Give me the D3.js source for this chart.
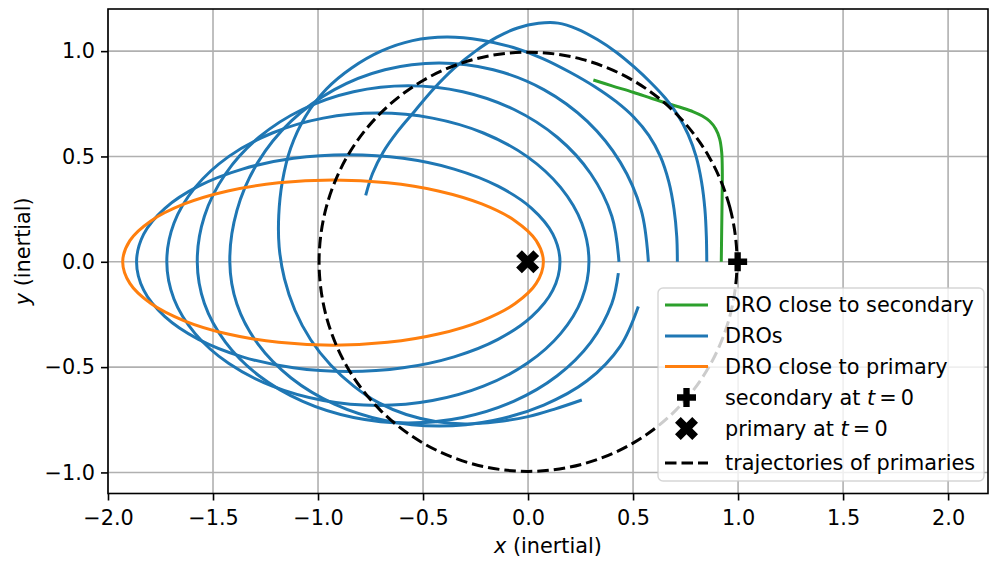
<!DOCTYPE html>
<html><head><meta charset="utf-8">
<script src="https://cdn.jsdelivr.net/npm/d3@7"></script>
<style>body{margin:0;background:#fff}svg{display:block}</style>
</head><body>
<svg id="chart" width="990" height="561"></svg>
<script>
// ---------- data ----------
const xTicks = [-2.0, -1.5, -1.0, -0.5, 0.0, 0.5, 1.0, 1.5, 2.0];
const yTicks = [-1.0, -0.5, 0.0, 0.5, 1.0];

const droSecondary = [[0.92,0],[0.922,0.15],[0.924,0.3],[0.925,0.42],[0.922,0.52],[0.912,0.585],[0.893,0.632],[0.865,0.667],[0.83,0.692],[0.787,0.712],[0.735,0.73],[0.668,0.75],[0.59,0.775],[0.5,0.805],[0.4,0.835],[0.311,0.863]];

const droPrimary = [[0.073,0],[0.0389,0.1004],[-0.0612,0.194],[-0.2203,0.2744],[-0.4277,0.336],[-0.6693,0.3748],[-0.9285,0.388],[-1.1877,0.3748],[-1.4293,0.336],[-1.6367,0.2744],[-1.7958,0.194],[-1.8959,0.1004],[-1.93,0],[-1.8959,-0.1025],[-1.7958,-0.198],[-1.6367,-0.28],[-1.4293,-0.343],[-1.1877,-0.3825],[-0.9285,-0.396],[-0.6693,-0.3825],[-0.4277,-0.343],[-0.2203,-0.28],[-0.0612,-0.198],[0.0389,-0.1025]];

const dro015 = [[0.152,0],[0.118,0.1315],[0.017,0.254],[-0.143,0.359],[-0.352,0.44],[-0.595,0.491],[-0.856,0.508],[-1.117,0.491],[-1.36,0.44],[-1.569,0.359],[-1.729,0.254],[-1.83,0.1315],[-1.864,0],[-1.83,-0.1348],[-1.729,-0.2605],[-1.569,-0.3684],[-1.36,-0.4512],[-1.117,-0.5032],[-0.856,-0.521],[-0.595,-0.5032],[-0.352,-0.4512],[-0.143,-0.3684],[0.017,-0.2605],[0.118,-0.1348]];
const dro029 = [[0.29,0],[0.256,0.1827],[0.155,0.353],[-0.004,0.4992],[-0.2125,0.6114],[-0.455,0.6819],[-0.715,0.706],[-0.975,0.6819],[-1.2175,0.6114],[-1.426,0.4992],[-1.585,0.353],[-1.686,0.1827],[-1.72,0],[-1.686,-0.1765],[-1.585,-0.341],[-1.426,-0.4822],[-1.2175,-0.5906],[-0.975,-0.6588],[-0.715,-0.682],[-0.455,-0.6588],[-0.2125,-0.5906],[-0.004,-0.4822],[0.155,-0.341],[0.256,-0.1765]];
const dro043 = [[0.433,0],[0.399,0.2164],[0.2985,0.418],[0.139,0.5911],[-0.069,0.724],[-0.311,0.8075],[-0.571,0.836],[-0.831,0.8075],[-1.073,0.724],[-1.281,0.5911],[-1.44,0.418],[-1.541,0.2164],[-1.575,0],[-1.541,-0.198],[-1.44,-0.3825],[-1.281,-0.541],[-1.073,-0.6625],[-0.831,-0.739],[-0.571,-0.765],[-0.311,-0.739],[-0.069,-0.6625],[0.139,-0.541],[0.2985,-0.3825],[0.399,-0.198],[0.43,-0.054]];
const dro057 = [[0.573,0],[0.539,0.2443],[0.4395,0.472],[0.281,0.6675],[0.0748,0.8175],[-0.1656,0.9118],[-0.4235,0.944],[-0.6815,0.9118],[-0.922,0.8175],[-1.128,0.6675],[-1.2865,0.472],[-1.386,0.2443],[-1.42,0],[-1.386,-0.202],[-1.2865,-0.39],[-1.128,-0.5515],[-0.922,-0.6755],[-0.6815,-0.7534],[-0.4235,-0.78],[-0.1656,-0.7534],[0.0748,-0.68],[0.281,-0.565],[0.4395,-0.40],[0.525,-0.212]];
const dro071 = [[0.711,0],[0.708,0.12],[0.695,0.25],[0.67,0.38],[0.63,0.5],[0.575,0.6],[0.505,0.685],[0.42,0.76],[0.32,0.83],[0.2,0.9],[0.07,0.965],[-0.07,1.017],[-0.22,1.052],[-0.387,1.067],[-0.55,1.05],[-0.7,1.0],[-0.84,0.92],[-0.96,0.82],[-1.06,0.69],[-1.13,0.54],[-1.17,0.38],[-1.187,0.22],[-1.185,0.07],[-1.16,-0.08],[-1.11,-0.23],[-1.035,-0.37],[-0.94,-0.49],[-0.83,-0.59],[-0.71,-0.67],[-0.58,-0.725],[-0.44,-0.758],[-0.3,-0.77],[-0.15,-0.76],[0.0,-0.735],[0.13,-0.698],[0.256,-0.656]];
const dro085 = [[0.851,0],[0.849,0.12],[0.842,0.25],[0.826,0.38],[0.8,0.5],[0.762,0.605],[0.714,0.695],[0.655,0.775],[0.585,0.85],[0.505,0.925],[0.42,0.995],[0.33,1.055],[0.235,1.105],[0.143,1.133],[0.05,1.132],[-0.05,1.11],[-0.15,1.065],[-0.25,1.0],[-0.35,0.92],[-0.45,0.82],[-0.54,0.715],[-0.62,0.62],[-0.69,0.52],[-0.74,0.42],[-0.773,0.315]];
const blueDROs = [dro015, dro029, dro043, dro057, dro071, dro085];
const blueClosed = [true, true, false, false, false, false];

const primariesPath = [[0.995,0],[0.961,0.258],[0.862,0.498],[0.704,0.704],[0.498,0.862],[0.258,0.961],[0,0.995],[-0.258,0.961],[-0.498,0.862],[-0.704,0.704],[-0.862,0.498],[-0.961,0.258],[-0.995,0],[-0.961,-0.258],[-0.862,-0.498],[-0.704,-0.704],[-0.498,-0.862],[-0.258,-0.961],[0,-0.995],[0.258,-0.961],[0.498,-0.862],[0.704,-0.704],[0.862,-0.498],[0.961,-0.258]];
const secondaryAt0 = [0.998, 0];
const primaryAt0 = [-0.002, 0];

const legendLabels = ["DRO close to secondary", "DROs", "DRO close to primary", "secondary at ", "primary at ", "trajectories of primaries"];

// ---------- styles ----------
const C = {green:"#2ca02c", blue:"#1f77b4", orange:"#ff7f0e", grid:"#b0b0b0"};
const LW = 3.0;
const DASH = "11.5,5";
const FONT = "DejaVu Sans, sans-serif";
const FS = 20.8;

const svg = d3.select("#chart");
const M = {left:108, right:988, top:9, bottom:493.5};
const x = d3.scaleLinear().domain([-2.0, 2.19]).range([M.left, M.right]);
const y = d3.scaleLinear().domain([-1.10, 1.20]).range([M.bottom, M.top]);

svg.append("defs").append("clipPath").attr("id","clip")
  .append("rect").attr("x",M.left).attr("y",M.top).attr("width",M.right-M.left).attr("height",M.bottom-M.top);

// grid
const grid = svg.append("g");
grid.selectAll(".gx").data(xTicks).join("line")
  .attr("x1",d=>x(d)).attr("x2",d=>x(d)).attr("y1",M.top).attr("y2",M.bottom)
  .attr("stroke",C.grid).attr("stroke-width",1.6);
grid.selectAll(".gy").data(yTicks).join("line")
  .attr("y1",d=>y(d)).attr("y2",d=>y(d)).attr("x1",M.left).attr("x2",M.right)
  .attr("stroke",C.grid).attr("stroke-width",1.6);

const plot = svg.append("g").attr("clip-path","url(#clip)");
const lineOpen = d3.line().x(d=>x(d[0])).y(d=>y(d[1])).curve(d3.curveCatmullRom.alpha(0.5));
const lineClosed = d3.line().x(d=>x(d[0])).y(d=>y(d[1])).curve(d3.curveCatmullRomClosed.alpha(0.5));

plot.append("path").attr("d",lineOpen(droSecondary)).attr("fill","none").attr("stroke",C.green).attr("stroke-width",LW);
blueDROs.forEach((pts,i)=>{
  plot.append("path").attr("d",(blueClosed[i]?lineClosed:lineOpen)(pts))
    .attr("fill","none").attr("stroke",C.blue).attr("stroke-width",LW);
});
plot.append("path").attr("d",lineClosed(droPrimary)).attr("fill","none").attr("stroke",C.orange).attr("stroke-width",LW);

// markers
function plusPath(s){const a=s/6;return `M${-a},${-3*a}H${a}V${-a}H${3*a}V${a}H${a}V${3*a}H${-a}V${a}H${-3*a}V${-a}H${-a}Z`;}
function xPath(s){const u=s/4;const p=[[-1,-2],[0,-1],[1,-2],[2,-1],[1,0],[2,1],[1,2],[0,1],[-1,2],[-2,1],[-1,0],[-2,-1]];return "M"+p.map(q=>(q[0]*u)+","+(q[1]*u)).join("L")+"Z";}
plot.append("path").attr("d",plusPath(19)).attr("transform",`translate(${x(secondaryAt0[0])},${y(secondaryAt0[1])})`).attr("fill","#000");
plot.append("path").attr("d",xPath(23)).attr("transform",`translate(${x(primaryAt0[0])},${y(primaryAt0[1])})`).attr("fill","#000");

plot.append("path").attr("d",lineClosed(primariesPath)).attr("fill","none").attr("stroke","#000")
  .attr("stroke-width",LW).attr("stroke-dasharray",DASH);

// axes
const xAxis = d3.axisBottom(x).tickValues(xTicks).tickFormat(d3.format(".1f")).tickSize(7).tickPadding(9.5);
const yAxis = d3.axisLeft(y).tickValues(yTicks).tickFormat(d3.format(".1f")).tickSize(7).tickPadding(6);
const gx = svg.append("g").attr("transform",`translate(0,${M.bottom})`).call(xAxis);
const gy = svg.append("g").attr("transform",`translate(${M.left},0)`).call(yAxis);
[gx,gy].forEach(g=>{
  g.select(".domain").remove();
  g.selectAll(".tick line").attr("stroke","#000").attr("stroke-width",1.6);
  g.selectAll(".tick text").attr("font-family",FONT).attr("font-size",FS).attr("fill","#000");
});
// spines
svg.append("rect").attr("x",M.left).attr("y",M.top).attr("width",M.right-M.left).attr("height",M.bottom-M.top)
  .attr("fill","none").attr("stroke","#000").attr("stroke-width",1.6);

// axis labels
const xl = svg.append("text").attr("x",(M.left+M.right)/2).attr("y",553).attr("text-anchor","middle")
  .attr("font-family",FONT).attr("font-size",FS);
xl.append("tspan").attr("font-style","italic").text("x");
xl.append("tspan").text(" (inertial)");
const yl = svg.append("text").attr("transform",`translate(30,${(M.top+M.bottom)/2}) rotate(-90)`).attr("text-anchor","middle")
  .attr("font-family",FONT).attr("font-size",FS);
yl.append("tspan").attr("font-style","italic").text("y");
yl.append("tspan").text(" (inertial)");

// legend
const lg = svg.append("g");
lg.append("rect").attr("x",658).attr("y",288).attr("width",326).attr("height",193).attr("rx",5)
  .attr("fill","#fff").attr("fill-opacity",0.8).attr("stroke","#cccccc").attr("stroke-opacity",0.8).attr("stroke-width",1.4);
const rowY = [305, 336, 366.5, 397.5, 428.5, 463];
const lx0 = 665, lx1 = 708, tx = 725;
function legText(i){
  const t = lg.append("text").attr("x",tx).attr("y",rowY[i]).attr("dy","0.36em")
    .attr("font-family",FONT).attr("font-size",FS).attr("fill","#000");
  t.append("tspan").text(legendLabels[i]);
  if(i===3||i===4){ t.append("tspan").attr("font-style","italic").text("t"); t.append("tspan").text("\u2009=\u20090"); }
}
[C.green,C.blue,C.orange].forEach((c,i)=>{
  lg.append("line").attr("x1",lx0).attr("x2",lx1).attr("y1",rowY[i]).attr("y2",rowY[i]).attr("stroke",c).attr("stroke-width",LW);
});
lg.append("path").attr("d",plusPath(19)).attr("transform",`translate(${(lx0+lx1)/2},${rowY[3]})`).attr("fill","#000");
lg.append("path").attr("d",xPath(23)).attr("transform",`translate(${(lx0+lx1)/2},${rowY[4]})`).attr("fill","#000");
lg.append("line").attr("x1",lx0).attr("x2",lx1).attr("y1",rowY[5]).attr("y2",rowY[5]).attr("stroke","#000").attr("stroke-width",LW).attr("stroke-dasharray",DASH);
for(let i=0;i<6;i++) legText(i);
</script>
</body></html>
